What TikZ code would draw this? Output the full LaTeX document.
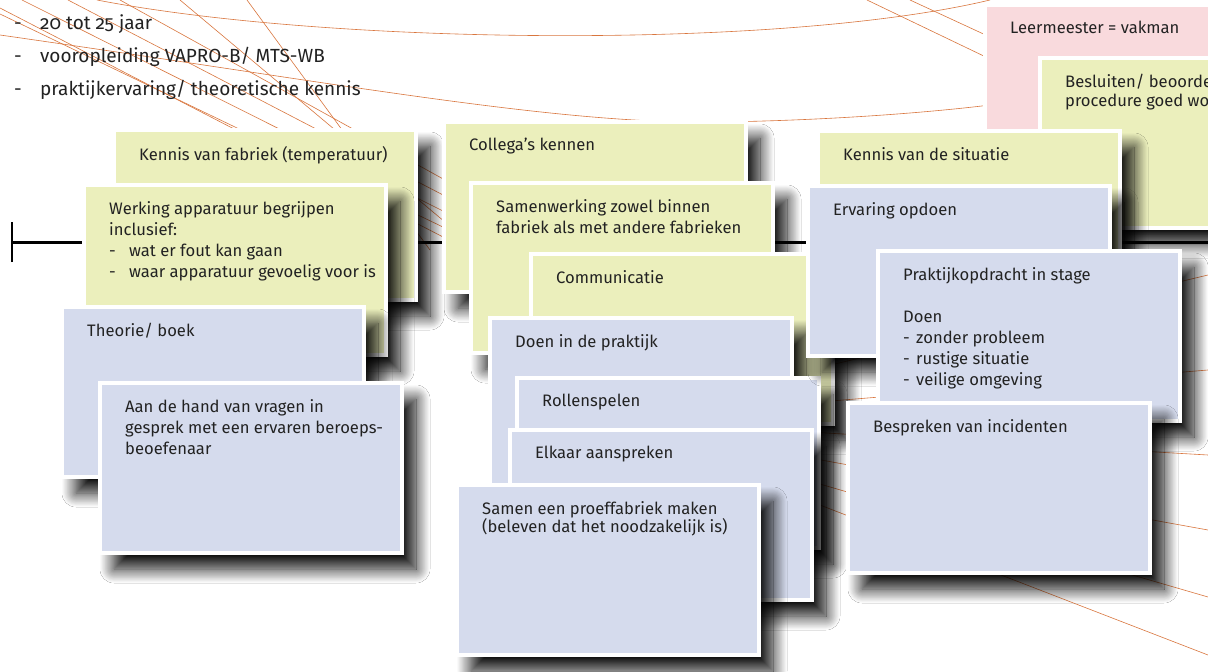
\documentclass[tikz,border=0pt]{standalone}
\usepackage{fontspec}
\setmainfont{Fira Sans}
\newfontfamily\oldnum{Fira Sans}[Numbers=OldStyle]
\usetikzlibrary{shadows.blur}
\definecolor{cardyellow}{HTML}{EBEFBC}
\definecolor{cardblue}{HTML}{D5DBED}
\definecolor{cardpink}{HTML}{F9DADD}
\definecolor{inkgray}{HTML}{222222}
\definecolor{lineorange}{HTML}{D9763E}

\begin{document}
\begin{tikzpicture}[x=1pt,y=-1pt]
	\tikzstyle{card}=[draw=white,line width=4pt,outer sep=0pt,inner sep=0pt,minimum width=302pt,minimum height=170pt,anchor=north west,blur shadow={shadow xshift=14pt,shadow yshift=-16pt,shadow blur radius=14pt,shadow blur steps=20,shadow opacity=95}];
	\tikzstyle{yel}=[card,fill=cardyellow];
	\tikzstyle{blu}=[card,fill=cardblue];
	\tikzstyle{pnk}=[card,fill=cardpink];
	\tikzstyle{txt}=[anchor=north west,inner sep=0pt,align=left,text=inkgray,font=\fontsize{16.6}{21}\selectfont];
	\tikzstyle{tight}=[txt,font=\fontsize{16.6}{18.5}\selectfont];
	\tikzstyle{listtxt}=[anchor=base west,inner sep=0pt,text=inkgray,font=\fontsize{19}{22}\selectfont];
	\tikzstyle{deco}=[lineorange,line width=0.6pt];

	\useasboundingbox[fill=white] (0,0) rectangle (1208,672);

	% background lines
	\draw[deco] (0,8) -- (445,238);
	\draw[deco] (0,14) -- (445,228);
	\draw[deco] (22,0) -- (445,212);
	\draw[deco] (68,0) -- (445,196);
	\draw[deco] (120,0) -- (445,180);
	\draw[deco] (180,0) -- (445,222);
	\draw[deco] (247,0) -- (430,250);
	\draw[deco] (97,0) .. controls (330,45) and (780,50) .. (990,0);
	\draw[deco] (0,35) .. controls (350,85) and (560,125) .. (720,122) .. controls (850,120) and (950,110) .. (990,105);
	\draw[deco] (867,0) -- (990,59);
	\draw[deco] (910,0) -- (990,37);
	\coordinate (hub) at (600,420);
	\foreach \ey in {275,370,455,530,597,655}
		\draw[deco] (hub) -- (1208,\ey);

	% time line
	\coordinate (tl) at (12,242);
	\coordinate (tr) at (1208,242);
	\draw[line width=3pt] (tl) -- (tr);
	\draw[line width=2.5pt] ([yshift=-20pt]tl) -- ([yshift=20pt]tl);

	% profile
	\node[listtxt] (p1) at (14,29) {\makebox[26pt][l]{-}{\oldnum 20 tot 25 jaar}};
	\node[listtxt] (p2) at (14,62) {\makebox[26pt][l]{-}vooropleiding VAPRO-B/ MTS-WB};
	\node[listtxt] (p3) at (14,95) {\makebox[26pt][l]{-}praktijkervaring/ theoretische kennis};

	% left group
	\node[yel] (kfab) at (114,130) {};
	\node[txt] (kfab-t) at ([shift={(25,16)}]kfab.north west) {Kennis van fabriek (temperatuur)};
	\node[yel] (werk) at (84,185) {};
	\node[txt] (werk-t) at ([shift={(25,16)}]werk.north west) {Werking apparatuur begrijpen\\inclusief:\\\makebox[20pt][l]{-}wat er fout kan gaan\\\makebox[20pt][l]{-}waar apparatuur gevoelig voor is};
	\node[blu] (theo) at (62,307) {};
	\node[txt] (theo-t) at ([shift={(25,16)}]theo.north west) {Theorie/ boek};
	\node[blu] (vrag) at (100,383) {};
	\node[txt] (vrag-t) at ([shift={(25,16)}]vrag.north west) {Aan de hand van vragen in\\gesprek met een ervaren beroeps-\\beoefenaar};

	% middle group
	\node[yel] (coll) at (444,122) {};
	\node[txt] (coll-t) at ([shift={(25,16)}]coll.north west) {Collega’s kennen};
	\node[yel] (samw) at (471,183) {};
	\node[txt] (samw-t) at ([shift={(25,16)}]samw.north west) {Samenwerking zowel binnen\\fabriek als met andere fabrieken};
	\node[yel] (comm) at (531,254) {};
	\node[txt] (comm-t) at ([shift={(25,16)}]comm.north west) {Communicatie};
	\node[blu] (doen) at (490,318) {};
	\node[txt] (doen-t) at ([shift={(25,16)}]doen.north west) {Doen in de praktijk};
	\node[blu] (roll) at (517,378) {};
	\node[txt] (roll-t) at ([shift={(25,16)}]roll.north west) {Rollenspelen};
	\node[blu] (elka) at (510,430) {};
	\node[txt] (elka-t) at ([shift={(25,16)}]elka.north west) {Elkaar aanspreken};
	\node[blu] (proe) at (457,485) {};
	\node[tight] (proe-t) at ([shift={(25,16)}]proe.north west) {Samen een proeffabriek maken\\(beleven dat het noodzakelijk is)};

	% right group
	\node[pnk] (leer) at (985,5) {};
	\node[txt] (leer-t) at ([shift={(25,16)}]leer.north west) {Leermeester = vakman};
	\node[yel] (besl) at (1040,58) {};
	\node[tight] (besl-t) at ([shift={(25,16)}]besl.north west) {Besluiten/ beoordelen\\procedure goed wordt};
	\node[yel] (ksit) at (818,131) {};
	\node[txt] (ksit-t) at ([shift={(25,16)}]ksit.north west) {Kennis van de situatie};
	\node[blu] (erva) at (808,186) {};
	\node[txt] (erva-t) at ([shift={(25,16)}]erva.north west) {Ervaring opdoen};
	\node[blu] (prak) at (878,251) {};
	\node[txt] (prak-t) at ([shift={(25,16)}]prak.north west) {Praktijkopdracht in stage\\[21pt]Doen\\\makebox[13pt][l]{-}zonder probleem\\\makebox[13pt][l]{-}rustige situatie\\\makebox[13pt][l]{-}veilige omgeving};
	\node[blu] (besp) at (848,403) {};
	\node[txt] (besp-t) at ([shift={(25,16)}]besp.north west) {Bespreken van incidenten};
\end{tikzpicture}
\end{document}
